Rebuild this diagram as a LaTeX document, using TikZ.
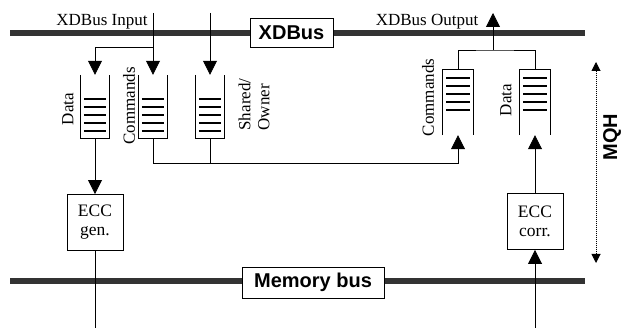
\documentclass[tikz,border=0pt]{standalone}
\usepackage{fontspec}
\setmainfont{Liberation Serif}
\setsansfont{Liberation Sans}
\usetikzlibrary{arrows.meta, positioning}
\definecolor{busgray}{HTML}{333333}

\tikzset{
  bus/.style={line width=5.5pt, draw=busgray},
  buslabel/.style={draw, fill=white, line width=0.9pt, inner sep=0pt,
    minimum height=29pt, font=\sffamily\bfseries\fontsize{20}{22}\selectfont},
  queue/.style={minimum width=28pt, minimum height=63pt, inner sep=0pt},
  ecc/.style={draw, line width=0.9pt, minimum width=56pt, minimum height=56pt,
    inner sep=0pt, align=center, font=\fontsize{17.5}{19}\selectfont},
  lbl/.style={inner sep=0pt, font=\fontsize{17}{19}\selectfont},
  vlbl/.style={lbl, rotate=90},
  wire/.style={line width=0.8pt},
  flow/.style={wire, -{Triangle[length=14pt,width=14pt]}},
}

\begin{document}
\begin{tikzpicture}[x=1pt, y=-1pt]
  \useasboundingbox (0,0) rectangle (623,328);

  % buses
  \coordinate (xdL) at (10,33);
  \coordinate (xdR) at (585,33);
  \coordinate (memL) at (10,281);
  \coordinate (memR) at (585,281);
  \draw[bus] (xdL) -- (xdR);
  \draw[bus] (memL) -- (memR);
  \node[buslabel, minimum width=83pt] (xdbus) at (291.5,32.5) {XDBus};
  \node[buslabel, minimum width=142pt, minimum height=31pt] (membus) at (313,282.5) {Memory bus};

  % queues
  \node[queue] (qDataIn) at (95,106.5) {};
  \node[queue] (qCmdIn) at (153,106.5) {};
  \node[queue] (qShIn) at (210,106.5) {};
  \node[queue, minimum width=31pt, minimum height=65pt] (qCmdOut) at (458,102.5) {};
  \node[queue, minimum width=31pt, minimum height=65pt] (qDataOut) at (535,102.5) {};

  \foreach \q in {qDataIn, qCmdIn, qShIn}{
    \draw[wire] (\q.north west) |- (\q.south east) -- (\q.north east);
    \foreach \k in {7,15,23,31,39}
      \draw[line width=1.8pt] ([xshift=3pt, yshift=\k pt]\q.south west)
        -- ([xshift=-3pt, yshift=\k pt]\q.south east);
  }
  \foreach \q in {qCmdOut, qDataOut}{
    \draw[wire] (\q.south west) |- (\q.north east) -- (\q.south east);
    \foreach \k in {8,16,24,32,40}
      \draw[line width=1.8pt] ([xshift=4pt, yshift=-\k pt]\q.north west)
        -- ([xshift=-4pt, yshift=-\k pt]\q.north east);
  }

  % queue labels
  \node[vlbl] (lDataIn) at (68,109) {Data};
  \node[vlbl] (lCmdIn) at (129,106) {Commands};
  \node[vlbl, align=left] (lShIn) at (254,104.5) {Shared/\\Owner};
  \node[vlbl] (lCmdOut) at (428,97.5) {Commands};
  \node[vlbl] (lDataOut) at (506,100) {Data};

  % ECC blocks
  \node[ecc] (eccGen) at (95,222.5) {ECC\\gen.};
  \node[ecc] (eccCorr) at (535,221.5) {ECC\\corr.};

  % XDBus input side
  \node[lbl, anchor=base] (inLabel) at (102,26) {XDBus Input};
  \coordinate (inA) at (153,13);
  \coordinate (inB) at (210,13);
  \coordinate (splitIn) at (153,47);
  \draw[flow] (inA) -- (qCmdIn.north);
  \draw[flow] (splitIn) -| (qDataIn.north);
  \draw[flow] (inB) -- (qShIn.north);

  % XDBus output side
  \node[lbl, anchor=base] (outLabel) at (427,26) {XDBus Output};
  \coordinate (outTip) at (493,13);
  \coordinate (splitOut) at (493,50);
  \draw[wire] (qCmdOut.north) |- (splitOut) -| (qDataOut.north);
  \draw[flow] (splitOut) -- (outTip);

  % commands path
  \coordinate (cmdLow) at (153,163);
  \draw[flow] (qCmdIn.south) -- (cmdLow) -| (qCmdOut.south);
  \draw[wire] (qShIn.south) -- (qShIn.south |- cmdLow);

  % data paths to memory bus
  \coordinate (genOut) at (95,328);
  \coordinate (corrIn) at (535,328);
  \draw[flow] (qDataIn.south) -- (eccGen.north);
  \draw[wire] (eccGen.south) -- (genOut);
  \draw[flow] (corrIn) -- (eccCorr.south);
  \draw[flow] (eccCorr.north) -- (qDataOut.south);

  % MQH extent
  \coordinate (mqhTop) at (596,62);
  \coordinate (mqhBot) at (596,263);
  \draw[densely dotted, line width=1pt,
    {Triangle[length=9pt,width=9pt]}-{Triangle[length=9pt,width=9pt]}] (mqhTop) -- (mqhBot);
  \node[inner sep=0pt, rotate=90, font=\sffamily\bfseries\fontsize{20}{22}\selectfont] (mqh) at (612,137) {MQH};
\end{tikzpicture}
\end{document}
